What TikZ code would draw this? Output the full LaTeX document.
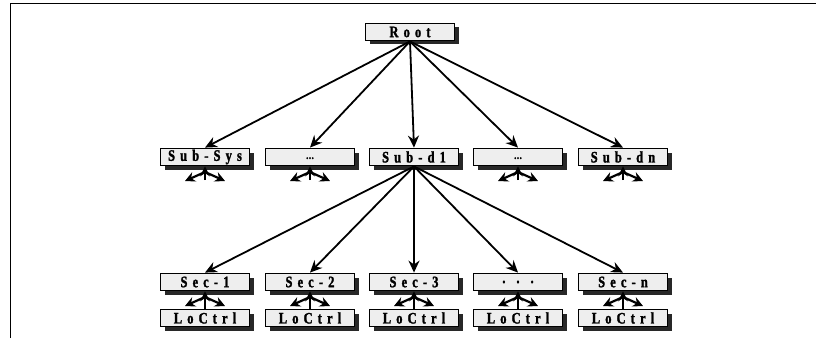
\documentclass[tikz,border=0pt]{standalone}
\usepackage{fontspec}
\setmainfont{Liberation Serif}
\newfontfamily\boxfont[LetterSpace=32,FakeStretch=0.78,FakeBold=1.5]{Liberation Serif}
\usetikzlibrary{arrows.meta,shadows}
\definecolor{boxfill}{RGB}{238,238,238}
\definecolor{shade}{RGB}{40,40,40}
\tikzset{
  blk/.style={draw=black,line width=1.8pt,fill=boxfill,minimum width=89pt,minimum height=17pt,inner sep=0pt,
    font=\boxfont\bfseries\fontsize{16}{16}\selectfont,
    drop shadow={shadow xshift=4pt,shadow yshift=-4pt,fill=shade,opacity=1}},
  link/.style={line width=1.8pt,-{Stealth[length=12pt,width=11pt]}},
  stub/.style={line width=2.2pt,-{Stealth[length=10pt,width=10pt]}}
}
\begin{document}
\begin{tikzpicture}[x=1pt,y=-1pt]
\useasboundingbox (0,0) rectangle (816,342);
\draw[line width=1pt] (10,338) -- (10,4) -- (816,4);
% nodes
\node[blk] (root) at (410,32) {Root};
\node[blk] (s1) at (205,157) {Sub-Sys};
\node[blk] (s2) at (310,157) {\raisebox{-4pt}{\fontsize{11}{11}\selectfont\addfontfeature{LetterSpace=5}...}};
\node[blk] (s3) at (414,157) {Sub-d1};
\node[blk] (s4) at (518,157) {\raisebox{-4pt}{\fontsize{11}{11}\selectfont\addfontfeature{LetterSpace=5}...}};
\node[blk] (s5) at (623,157) {Sub-dn};
\node[blk] (c1) at (205,282) {Sec-1};
\node[blk] (c2) at (310,282) {Sec-2};
\node[blk] (c3) at (414,282) {Sec-3};
\node[blk] (c4) at (518,282) {. . .};
\node[blk] (c5) at (623,282) {Sec-n};
\node[blk] (l1) at (205,318) {LoCtrl};
\node[blk] (l2) at (310,318) {LoCtrl};
\node[blk] (l3) at (414,318) {LoCtrl};
\node[blk] (l4) at (518,318) {LoCtrl};
\node[blk] (l5) at (623,318) {LoCtrl};
% main links
\foreach \i in {1,...,5}{
  \draw[link] (root.south) -- (s\i.north);
  \draw[link] (s3.south) -- (c\i.north);
}
% stubs under second row
\foreach \i/\x in {1/205,2/310,4/518,5/623}{
  \coordinate (t\i) at (\x,172);
  \coordinate (ta\i) at (\x-20,181);
  \coordinate (tb\i) at (\x+20,181);
  \coordinate (tc\i) at (\x,180);
  \draw[stub] (t\i) -- (ta\i);
  \draw[stub] (t\i) -- (tb\i);
  \draw[stub] (tc\i) -- (s\i.south);
}
% stubs between sections and local controls
\foreach \i/\x in {1/205,2/310,3/414,4/518,5/623}{
  \coordinate (u\i) at (\x,297);
  \coordinate (ua\i) at (\x-20,306);
  \coordinate (ub\i) at (\x+20,306);
  \draw[stub] (u\i) -- (ua\i);
  \draw[stub] (u\i) -- (ub\i);
  \draw[stub] (l\i.north) -- (c\i.south);
}
\end{tikzpicture}
\end{document}
